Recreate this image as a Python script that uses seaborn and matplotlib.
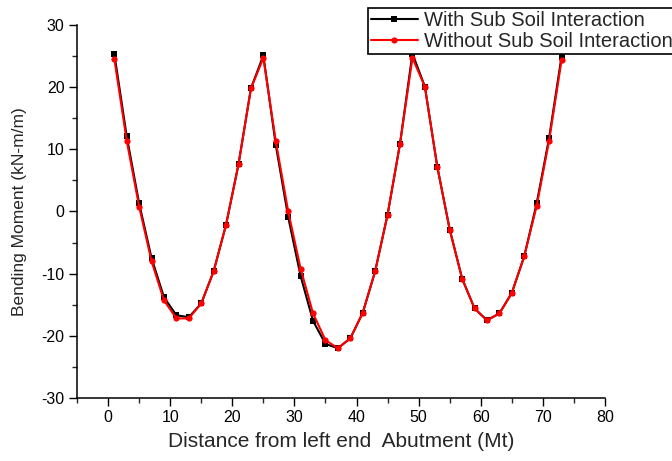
import numpy as np
import pandas as pd
import matplotlib
matplotlib.use("Agg")
import matplotlib.pyplot as plt
import seaborn as sns
from matplotlib.ticker import MultipleLocator

distance = [1, 3, 5, 7, 9, 11, 13, 15, 17, 19, 21, 23, 25, 27, 29, 31, 33, 35, 37,
            39, 41, 43, 45, 47, 49, 51, 53, 55, 57, 59, 61, 63, 65, 67, 69, 71, 73]
with_ssi = [25.4, 12.1, 1.3, -7.5, -13.8, -16.7, -17.0, -14.8, -9.6, -2.1, 7.6, 19.8,
            25.1, 10.7, -0.9, -10.4, -17.6, -21.3, -22.0, -20.4, -16.3, -9.6, -0.5,
            10.9, 25.4, 20.1, 7.2, -2.9, -10.8, -15.6, -17.5, -16.4, -13.1, -7.2, 1.3,
            11.8, 24.9]
without_ssi = [24.6, 11.4, 0.8, -8.0, -14.3, -17.2, -17.2, -14.8, -9.6, -2.1, 7.6, 19.8,
               24.7, 11.3, 0.0, -9.2, -16.4, -20.7, -22.0, -20.4, -16.3, -9.6, -0.5,
               10.9, 24.7, 20.1, 7.2, -2.9, -10.8, -15.6, -17.5, -16.4, -13.1, -7.2, 0.9,
               11.4, 24.3]
series_names = ["With Sub Soil Interaction", "Without Sub Soil Interaction"]
x_ticks = [0, 10, 20, 30, 40, 50, 60, 70, 80]
y_ticks = [-30, -20, -10, 0, 10, 20, 30]

sns.set_style("ticks")
plt.rcParams['font.family'] = ['Liberation Sans', 'DejaVu Sans']
plt.rcParams['axes.unicode_minus'] = False

df = pd.DataFrame({
    "x": distance * 2,
    "y": with_ssi + without_ssi,
    "series": [series_names[0]] * len(distance) + [series_names[1]] * len(distance),
})

fig = plt.figure(figsize=(6.72, 4.61), dpi=100)
ax = fig.add_axes([0.1146, 0.1367, 0.7857, 0.8091])

sns.lineplot(data=df, x="x", y="y", hue="series", style="series",
             palette={series_names[0]: "black", series_names[1]: "#ff0000"},
             markers={series_names[0]: "s", series_names[1]: "o"},
             dashes=False, linewidth=1.5, markersize=4.5, markeredgewidth=0,
             ax=ax, legend=True, sort=False)

ax.set_xlim(-5, 80)
ax.set_ylim(-30, 30)
ax.set_xticks(x_ticks)
ax.set_yticks(y_ticks)
ax.xaxis.set_minor_locator(MultipleLocator(5))
ax.yaxis.set_minor_locator(MultipleLocator(5))
ax.tick_params(which="major", direction="out", length=6, width=1, labelsize=11.5,
               colors="black", pad=3)
ax.tick_params(which="minor", direction="out", length=3.5, width=1)
for s in ["left", "bottom"]:
    ax.spines[s].set_linewidth(1.1)
    ax.spines[s].set_color("black")
sns.despine(ax=ax)

ax.set_xlabel("Distance from left end  Abutment (Mt)", fontsize=15, labelpad=5)
ax.set_ylabel("Bending Moment (kN-m/m)", fontsize=12.5, labelpad=10)

handles, labels = ax.get_legend_handles_labels()
leg = ax.legend(handles, labels, loc="upper right", bbox_to_anchor=(1.005, 0.983),
                bbox_transform=fig.transFigure, fontsize=14.5, frameon=True,
                fancybox=False, edgecolor="black", framealpha=1,
                handlelength=2.3, handletextpad=0.3, borderpad=0.15, labelspacing=0.1,
                borderaxespad=0)
leg.get_frame().set_linewidth(1.2)

fig.savefig("out.png", dpi=100)
